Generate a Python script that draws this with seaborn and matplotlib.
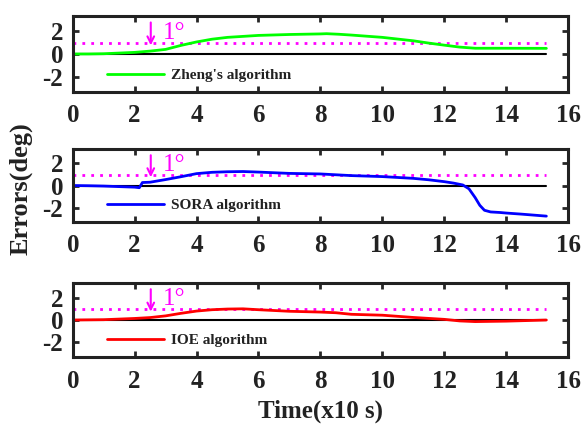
import matplotlib
matplotlib.use("Agg")
import matplotlib.pyplot as plt
import seaborn as sns
import pandas as pd

# ---- data ----
t_zheng = [0, 0.5, 1, 1.5, 2, 2.5, 3, 3.5, 4, 4.5, 5, 6, 7, 8, 8.2, 8.6, 9, 10, 11, 11.5, 12, 12.5, 13, 14, 15.3]
e_zheng = [0.0, 0.0, 0.02, 0.08, 0.14, 0.25, 0.4, 0.75, 1.05, 1.29, 1.45, 1.62, 1.7, 1.75, 1.77, 1.72, 1.65, 1.45, 1.15, 0.95, 0.77, 0.6, 0.5, 0.5, 0.49]

t_sora = [0, 0.5, 1, 1.5, 2, 2.15, 2.25, 2.5, 3, 3.5, 4, 4.5, 5, 5.5, 6, 7, 8, 9, 10, 11, 11.5, 12, 12.3, 12.6, 12.8, 13.0, 13.15, 13.3, 13.5, 13.8, 14, 14.5, 15.3]
e_sora = [0.0, -0.02, -0.05, -0.1, -0.15, -0.2, 0.27, 0.3, 0.54, 0.8, 1.08, 1.2, 1.25, 1.27, 1.22, 1.1, 1.05, 0.9, 0.81, 0.65, 0.52, 0.35, 0.22, 0.05, -0.3, -1.1, -1.8, -2.25, -2.4, -2.45, -2.5, -2.6, -2.78]

t_ioe = [0, 1, 2, 2.5, 3, 3.5, 4, 4.5, 5, 5.5, 6, 7, 8, 8.5, 9, 10, 11, 12, 12.5, 13, 14, 15.3]
e_ioe = [0.0, 0.03, 0.14, 0.22, 0.37, 0.6, 0.8, 0.92, 0.98, 1.0, 0.92, 0.78, 0.71, 0.65, 0.51, 0.43, 0.23, 0.06, -0.08, -0.14, -0.1, 0.0]

labels = ["Zheng's algorithm", "SORA algorithm", "IOE algorithm"]
colors = ["#00FF00", "#0000FF", "#FF0000"]
x_ticks = [0, 2, 4, 6, 8, 10, 12, 14, 16]
y_ticks = [-2, 0, 2]
t_end = 15.3
threshold = 1.0
note_text = "1\u00b0"

sns.set_theme(style="ticks")
plt.rcParams['font.family'] = ['Liberation Serif', 'DejaVu Serif']
plt.rcParams['font.weight'] = 'bold'
plt.rcParams['axes.unicode_minus'] = False

fig = plt.figure(figsize=(5.82, 4.25), dpi=100)
boxes = [(0.125, 0.784, 0.851, 0.178),
         (0.125, 0.478, 0.851, 0.171),
         (0.125, 0.160, 0.851, 0.174)]

series = [(t_zheng, e_zheng), (t_sora, e_sora), (t_ioe, e_ioe)]
axes = []
for i, ((t, e), lab, col, box) in enumerate(zip(series, labels, colors, boxes)):
    ax = fig.add_axes(box)
    df = pd.DataFrame({"t": t, "e": e})
    sns.lineplot(x=[0, t_end], y=[threshold, threshold], ax=ax, color="#FF00FF",
                 linestyle=(0, (1, 2.2)), linewidth=2)
    sns.lineplot(x=[0, t_end], y=[0, 0], ax=ax, color="black", linewidth=1.5)
    sns.lineplot(data=df, x="t", y="e", ax=ax, color=col, linewidth=2, label=lab)
    ax.set_xlim(0, 16)
    ax.set_ylim(-3.3, 3.3)
    ax.set_xticks(x_ticks)
    ax.set_yticks(y_ticks)
    ax.set_xlabel("")
    ax.set_ylabel("")
    ax.tick_params(direction="in", top=True, right=True, length=4, width=2,
                   labelsize=18, labelcolor="#222222")
    ax.tick_params(axis="x", pad=9)
    ax.tick_params(axis="y", pad=7)
    for lbl in ax.get_xticklabels() + ax.get_yticklabels():
        lbl.set_fontweight("bold")
    for sp in ax.spines.values():
        sp.set_linewidth(2.2)
        sp.set_color("#222222")
    # annotation: arrow pointing at the 1 degree threshold
    ax.annotate("", xy=(2.52, 0.75), xytext=(2.52, 2.75),
                arrowprops=dict(arrowstyle="->", color="#FF00FF", lw=1.5,
                                shrinkA=0, shrinkB=0, mutation_scale=12))
    ax.text(2.9, 1.3, note_text, color="#FF00FF", fontsize=18,
            fontweight="normal", ha="left", va="baseline")
    leg = ax.legend(loc="lower left", bbox_to_anchor=(0.057, 0.05), frameon=False,
                    prop={"weight": "bold", "size": 11}, handlelength=3.7,
                    handletextpad=0.5, borderaxespad=0)
    for txt in leg.get_texts():
        txt.set_color("#222222")
    axes.append(ax)

axes[2].set_xlabel("Time(x10 s)", fontsize=18, fontweight="bold", labelpad=5,
                   color="#222222")
fig.text(0.036, 0.555, "Errors(deg)", rotation=90, fontsize=19, fontweight="bold",
         ha="center", va="center", color="#222222")

fig.savefig("out.png", dpi=100)
